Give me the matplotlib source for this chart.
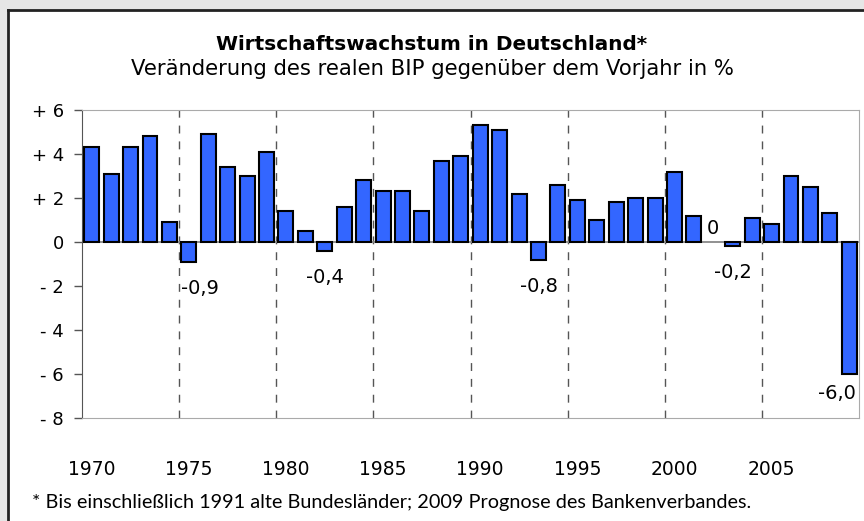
import matplotlib.pyplot as plt
import numpy as np

plt.rcParams['font.family'] = ['DejaVu Sans']

# Daten: reales BIP-Wachstum in %
jahre = list(range(1970, 2010))
wachstum = [4.3, 3.1, 4.3, 4.8, 0.9, -0.9, 4.9, 3.4, 3.0, 4.1,
            1.4, 0.5, -0.4, 1.6, 2.8, 2.3, 2.3, 1.4, 3.7, 3.9,
            5.3, 5.1, 2.2, -0.8, 2.6, 1.9, 1.0, 1.8, 2.0, 2.0,
            3.2, 1.2, 0.0, -0.2, 1.1, 0.8, 3.0, 2.5, 1.3, -6.0]
beschriftet = {1975: '-0,9', 1982: '-0,4', 1993: '-0,8', 2002: '0', 2003: '-0,2', 2009: '-6,0'}
yticks = [6, 4, 2, 0, -2, -4, -6, -8]
ytick_labels = ['+ 6', '+ 4', '+ 2', '0', '- 2', '- 4', '- 6', '- 8']
xtick_jahre = [1970, 1975, 1980, 1985, 1990, 1995, 2000, 2005]

fig = plt.figure(figsize=(8.64, 5.21), dpi=100, facecolor='#e6e6e6')
# weisses Panel mit Rahmen
panel = fig.add_axes([8/864, 0, 1, 1 - 10/521])
panel.set_facecolor('white')
panel.set_xticks([]); panel.set_yticks([])
for s in ['right', 'bottom']:
    panel.spines[s].set_visible(False)
for s in ['left', 'top']:
    panel.spines[s].set_color('#222222')
    panel.spines[s].set_linewidth(2)
panel.set_zorder(0)

ax = fig.add_axes([82/864, 1 - 418/521, (859 - 82)/864, (418 - 110)/521])
ax.set_zorder(1)
ax.patch.set_alpha(0)
x = np.arange(len(jahre))
lw = [0 if v == 0 else 1.5 for v in wachstum]
ax.bar(x, wachstum, width=0.77, color='#3366ff', edgecolor='black', linewidth=lw, zorder=3)
ax.axhline(0, color='#888888', lw=1.3, zorder=2)
for xv in np.arange(4.5, 35, 5):
    ax.axvline(xv, color='#555555', lw=1, ls=(0, (5.7, 5.7)), zorder=1)

ax.set_xlim(-0.5, len(jahre) - 0.5)
ax.set_ylim(-8, 6)
ax.set_yticks(yticks)
ax.set_yticklabels(ytick_labels, fontsize=13)
ax.tick_params(axis='y', length=6, width=1, direction='out', color='#555555', pad=7)
ax.set_xticks([jahre.index(j) for j in xtick_jahre])
ax.set_xticklabels([str(j) for j in xtick_jahre], fontsize=13.5)
ax.tick_params(axis='x', length=0, pad=30)
ax.spines['left'].set_color('#555555')
for s in ['top', 'right', 'bottom']:
    ax.spines[s].set_color('#aaaaaa')

# Verschiebung der Beschriftungen (dx in Kategorien, dy in %-Punkten)
versatz = {1975: (0.55, -1.2), 2009: (-0.65, -0.9)}
for j, txt in beschriftet.items():
    i = jahre.index(j)
    v = wachstum[i]
    dx, dy = versatz.get(j, (0, -1.2 if v < 0 else 0.62))
    ax.text(i + dx, v + dy, txt, ha='center', va='center', fontsize=14)

fig.text(0.5, 1 - 50/521, 'Wirtschaftswachstum in Deutschland*', ha='center', va='baseline',
         fontsize=14.4, fontweight='bold')
fig.text(0.5, 1 - 75/521, 'Veränderung des realen BIP gegenüber dem Vorjahr in %', ha='center',
         va='baseline', fontsize=15.2)
fig.text(32/864, 1 - 508/521, '* Bis einschließlich 1991 alte Bundesländer; 2009 Prognose des Bankenverbandes.',
         ha='left', va='baseline', fontsize=14.3, family=['Lato', 'DejaVu Sans'])

fig.savefig('out.png', dpi=100, facecolor=fig.get_facecolor())
